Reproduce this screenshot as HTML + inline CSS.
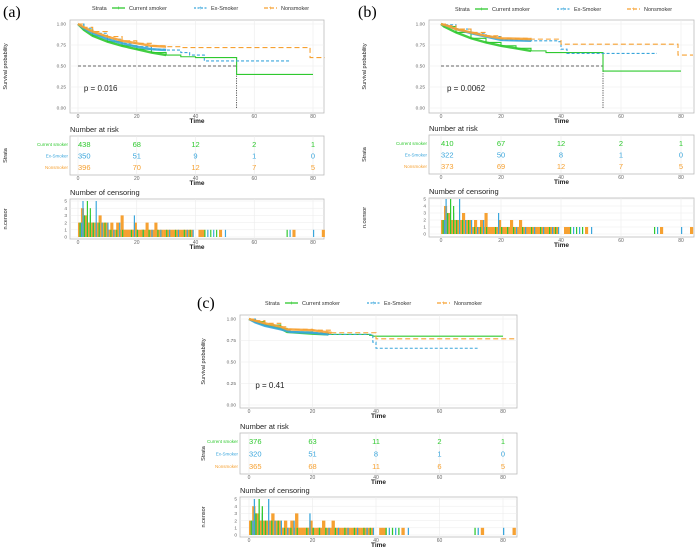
<!DOCTYPE html>
<html><head><meta charset="utf-8">
<style>
html,body{margin:0;padding:0;background:#fff;}
svg{display:block;font-family:"Liberation Sans",sans-serif;}
</style></head>
<body>
<svg id="fig" width="699" height="552" viewBox="0 0 699 552" xmlns="http://www.w3.org/2000/svg"></svg>
<script>
// ---------- data ----------
const groups = ["Current smoker","Ex-Smoker","Nonsmoker"];
const colors = ["#2fc92f","#3aa6dc","#f6a132"];
const riskTimes = [0,20,40,60,80];
const survTicks = [0,0.25,0.5,0.75,1];
const survTickLabels = ["0.00","0.25","0.50","0.75","1.00"];
const censTicks = [0,1,2,3,4,5];
// panel (a)
const aCurT = [0,2,5,10,15,20,25,30,35,40,54,80];
const aCurS = [1,0.93,0.86,0.79,0.74,0.70,0.66,0.63,0.61,0.60,0.40,0.40];
const aExT = [0,2,5,10,15,20,25,30,35,38,43,72];
const aExS = [1,0.95,0.89,0.82,0.77,0.73,0.70,0.69,0.66,0.63,0.56,0.56];
const aNonT = [0,2,5,10,15,20,25,30,35,79,84];
const aNonS = [1,0.96,0.91,0.85,0.80,0.77,0.74,0.73,0.72,0.60,0.60];
const aRisk = [[438,68,12,2,1],[350,51,9,1,0],[396,70,12,7,5]];
// panel (b)
const bCurT = [0,1,5,10,15,20,25,30,35,54,80];
const bCurS = [1,0.97,0.90,0.83,0.78,0.74,0.71,0.68,0.66,0.44,0.44];
const bExT = [0,1,5,10,15,20,30,39,40,42,72];
const bExS = [1,0.99,0.94,0.89,0.85,0.81,0.80,0.79,0.70,0.65,0.65];
const bNonT = [0,2,5,10,15,20,30,39,40,79,84];
const bNonS = [1,0.98,0.94,0.90,0.86,0.83,0.82,0.82,0.76,0.63,0.63];
const bRisk = [[410,67,12,2,1],[322,50,8,1,0],[373,69,12,7,5]];
// panel (c)
const cCurT = [0,2,5,10,12,20,25,38,39,80];
const cCurS = [1,0.97,0.93,0.89,0.85,0.83,0.82,0.81,0.80,0.80];
const cExT = [0,2,5,10,13,20,25,38,39,40,72];
const cExS = [1,0.96,0.92,0.88,0.85,0.84,0.82,0.82,0.73,0.66,0.66];
const cNonT = [0,2,5,10,12,20,26,39,40,84];
const cNonS = [1,0.98,0.95,0.91,0.88,0.87,0.84,0.84,0.77,0.77];
const cRisk = [[376,63,11,2,1],[320,51,8,1,0],[365,68,11,6,5]];
// censoring [time,count]
const censGreen = [[1,2],[1.5,5],[2,3],[3,2],[4,3],[5,2],[6,5],[7,2],[8,2],[9,1],[10,2],[12,1],[14,2],[19,3],[20,1],[22,1],[25,1],[28,1],[31,1],[34,1],[37,1],[39,1],[44,1],[46,1],[50,1],[72,1],[80,1]];
const censBlue = [[0.5,2],[2,3],[3,5],[4,4],[5,2],[7,2],[9,2],[11,1],[13,1],[15,1],[18,1],[20,1],[22,1],[24,1],[27,1],[30,1],[33,1],[36,1],[38,1],[43,1],[45,1],[47,1],[71,1]];
const censOrange = [[0,2],[0.5,1],[1,4],[1.5,2],[2,3],[2.5,1],[3,2],[3.5,2],[4,1],[4.5,2],[5,1],[5.5,2],[6,2],[6.5,1],[7,3],[7.5,1],[8,2],[8.5,1],[9,2],[9.5,1],[10,1],[10.5,1],[11,2],[11.5,1],[12,1],[12.5,1],[13,2],[13.5,1],[14,1],[14.5,3],[15,1],[15.5,1],[16,1],[16.5,1],[17,1],[17.5,1],[18,1],[18.5,1],[19,2],[20,1],[21,1],[21.5,1],[22,1],[23,2],[24,1],[25,1],[26,2],[27,1],[28,1],[29,1],[30,1],[31,1],[32,1],[33,1],[34,1],[35,1],[36,1],[37,1],[38,1],[41,1],[42,1],[48,1],[73,1],[83,1]];

const NS="http://www.w3.org/2000/svg";
const svg=document.getElementById("fig");
function mk(tag,attrs,parent,text){const e=document.createElementNS(NS,tag);for(const k in attrs)e.setAttribute(k,attrs[k]);if(text!==undefined)e.textContent=text;(parent||svg).appendChild(e);return e;}

function panel(cfg){
  const g=mk("g",{});
  
  
  const X=t=>cfg.x0+(cfg.x80-cfg.x0)*t/80;
  const [mt,mb,y1,y0]=cfg.main;
  const Y=s=>y0+(y1-y0)*s;
  const [l,r]=cfg.box;
  const lab=mk("text",{x:cfg.lx,y:cfg.ly,"font-family":"Liberation Serif,serif","font-size":16},g,"("+cfg.id+")");
  
  
  // legend
  const lg=mk("g",{},g);
  
  
  let lx=cfg.legX;
  mk("text",{x:lx,y:cfg.legY+2,"font-size":5.5,fill:"#333"},lg,"Strata");
  lx+=20;
  const widths=[62,50,50];
  groups.forEach((n,i)=>{
    const e=mk("g",{},lg);
    
    
    mk("line",{x1:lx,x2:lx+13,y1:cfg.legY,y2:cfg.legY,stroke:colors[i],"stroke-width":1.3,"stroke-dasharray":i==0?"":(i==1?"2,1.5":"4,2")},e);
    mk("text",{x:lx+6.5,y:cfg.legY+2,"font-size":6,fill:colors[i],"text-anchor":"middle"},e,"+");
    mk("text",{x:lx+17,y:cfg.legY+2,"font-size":5.5,fill:"#333"},e,n);
    lx+=widths[i]+20;
  });
  function frame(top,bot,name){
    const f=mk("rect",{x:l,y:top,width:r-l,height:bot-top,fill:"#fff",stroke:"#bbb","stroke-width":0.8},g);
    
    
    riskTimes.forEach(t=>{mk("line",{x1:X(t),x2:X(t),y1:top,y2:bot,stroke:"#ebebeb","stroke-width":0.6},g);});
    riskTimes.forEach(t=>{
      mk("text",{x:X(t),y:bot+5,"font-size":5,fill:"#666","text-anchor":"middle"},g,String(t));
    });
    const tt=mk("text",{x:(l+r)/2,y:bot+10,"font-size":6.5,fill:"#222","text-anchor":"middle","font-weight":"bold"},g,"Time");
    
    
  }
  frame(mt,mb,"survival-plot-area");
  survTicks.forEach((s,i)=>{
    mk("line",{x1:l,x2:r,y1:Y(s),y2:Y(s),stroke:"#ebebeb","stroke-width":0.6},g);
    mk("text",{x:l-4,y:Y(s)+1.7,"font-size":4.8,fill:"#666","text-anchor":"end"},g,survTickLabels[i]);
  });
  const yt=mk("text",{x:0,y:0,"font-size":5.5,fill:"#222","text-anchor":"middle",transform:`translate(${cfg.ytx},${(mt+mb)/2}) rotate(-90)`},g,"Survival probability");
  
  
  if(cfg.median){
    mk("line",{x1:X(0),x2:X(cfg.median),y1:Y(0.5),y2:Y(0.5),stroke:"#333","stroke-width":0.8,"stroke-dasharray":"3,2"},g);
    mk("line",{x1:X(cfg.median),x2:X(cfg.median),y1:Y(0.5),y2:Y(0),stroke:"#333","stroke-width":0.8,"stroke-dasharray":"1.2,1.2"},g);
  }
  const dashes=["","3,2","5,3"];
  cfg.curves.forEach((c,i)=>{
    const [T,S]=c;
    let d=`M${X(T[0])},${Y(S[0])}`;
    for(let k=1;k<T.length;k++){d+=`H${X(T[k])}V${Y(S[k])}`;}
    const p=mk("path",{d:d,fill:"none",stroke:colors[i],"stroke-width":1.1,"stroke-dasharray":dashes[i]},g);
    
    
    let d2=`M${X(T[0])},${Y(S[0])}`;
    for(let k=1;k<T.length&&T[k]<=30;k++){d2+=`L${X(T[k])},${Y(S[k])}`;}
    mk("path",{d:d2,fill:"none",stroke:colors[i],"stroke-width":2.4,opacity:0.9},g);
  });
  const pv=mk("text",{x:X(2),y:Y(0.2),"font-size":8,fill:"#222"},g,"p = "+cfg.p);
  
  
  // risk table
  const [rt,rb]=cfg.risk;
  mk("text",{x:l,y:rt-4,"font-size":7.5,fill:"#222"},g,"Number at risk");
  frame(rt,rb,"risk-table");
  const rowY=i=>rt+(rb-rt)*(0.2+0.3*i)+2.5;
  groups.forEach((n,i)=>{
    mk("text",{x:l-2,y:rowY(i)-0.5,"font-size":4.5,fill:colors[i],"text-anchor":"end"},g,n);
    cfg.riskData[i].forEach((v,j)=>{
      const t=mk("text",{x:X(riskTimes[j]),y:rowY(i)+0.5,"font-size":7.5,fill:colors[i],"text-anchor":j==0?"start":"middle"},g,String(v));
      
      
    });
  });
  mk("text",{x:0,y:0,"font-size":5.5,fill:"#222","text-anchor":"middle",transform:`translate(${cfg.ytx},${(rt+rb)/2}) rotate(-90)`},g,"Strata");
  // censoring
  const [ct,cb,c5,c0]=cfg.cens;
  const CY=v=>c0+(c5-c0)*v/5;
  mk("text",{x:l,y:ct-4,"font-size":7.5,fill:"#222"},g,"Number of censoring");
  frame(ct,cb,"censoring-plot");
  censTicks.forEach(v=>{
    mk("line",{x1:l,x2:r,y1:CY(v),y2:CY(v),stroke:"#ebebeb","stroke-width":0.5},g);
    mk("text",{x:l-3,y:CY(v)+1.7,"font-size":4.8,fill:"#666","text-anchor":"end"},g,String(v));
  });
  mk("text",{x:0,y:0,"font-size":5.5,fill:"#222","text-anchor":"middle",transform:`translate(${cfg.ytx},${(ct+cb)/2}) rotate(-90)`},g,"n.censor");
  const u=(cfg.x80-cfg.x0)/80;
  [[censOrange,2,1.05],[censGreen,1,0.4],[censBlue,0,0.4]].forEach(([arr,ci,w])=>{
    arr.forEach(([t,n])=>{
      const b=mk("rect",{x:X(t),y:CY(n),width:Math.max(w*u,1),height:CY(0)-CY(n),fill:colors[ci]},g);
      
      
    });
  });
}

panel({id:"a",lx:3,ly:17,legX:92,legY:8,box:[70,324],x0:78,x80:313,main:[20,113,24,108],ytx:7,
  curves:[[aCurT,aCurS],[aExT,aExS],[aNonT,aNonS]],median:54,p:"0.016",riskData:aRisk,
  risk:[136,175],cens:[199,239,201,237]});
panel({id:"b",lx:358,ly:17,legX:455,legY:9,box:[429,694],x0:441,x80:681,main:[20,113,24,108],ytx:366,
  curves:[[bCurT,bCurS],[bExT,bExS],[bNonT,bNonS]],median:54,p:"0.0062",riskData:bRisk,
  risk:[135,174],cens:[198,237,199,234]});
panel({id:"c",lx:197,ly:308,legX:265,legY:303,box:[240,517],x0:249,x80:503,main:[315,408,319,405],ytx:205,
  curves:[[cCurT,cCurS],[cExT,cExS],[cNonT,cNonS]],median:0,p:"0.41",riskData:cRisk,
  risk:[433,474],cens:[497,537,499,535]});
</script>
</body></html>
